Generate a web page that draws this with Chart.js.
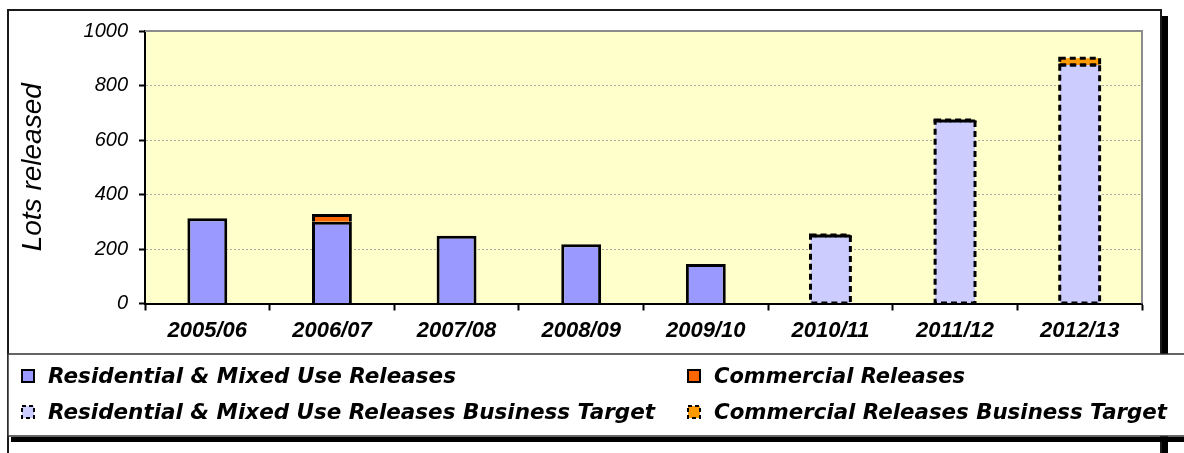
<!DOCTYPE html>
<html>
<head>
<meta charset="utf-8">
<title>Lots released</title>
<script src="https://cdn.jsdelivr.net/npm/chart.js@4.4.1/dist/chart.umd.min.js"></script>
<style>
  html, body { margin: 0; padding: 0; background: #fff; }
  #wrap { width: 1184px; height: 453px; }
</style>
</head>
<body>
<div id="wrap"><canvas id="chart-lots"></canvas></div>
<script>
const YEARS = ["2005/06", "2006/07", "2007/08", "2008/09", "2009/10", "2010/11", "2011/12", "2012/13"];
const RESIDENTIAL = [313, 300, 249, 217, 145, null, null, null];
const COMMERCIAL = [null, 28, null, null, null, null, null, null];
const RESIDENTIAL_TARGET = [null, null, null, null, null, 248, 670, 875];
const COMMERCIAL_TARGET = [null, null, null, null, null, 3, 3, 25];
const Y_TICKS = [0, 200, 400, 600, 800, 1000];

const FONT = "Liberation Sans, Arimo, Arial, Helvetica, sans-serif";
const LEGEND_FONT = "DejaVu Sans, Tahoma, sans-serif";

// page frame, shadow and the pale yellow plot area
const backdrop = {
  id: "backdrop",
  beforeDraw(chart) {
    const { ctx, chartArea: a } = chart;
    ctx.save();
    ctx.fillStyle = "#fff";
    ctx.fillRect(0, 0, chart.width, chart.height);
    ctx.fillStyle = "#000";
    ctx.fillRect(1162, 16, 6, chart.height);
    ctx.strokeStyle = "#1a1a1a";
    ctx.lineWidth = 2;
    ctx.strokeRect(8, 10, 1153, chart.height + 20);
    ctx.fillStyle = "#ffffcc";
    ctx.fillRect(a.left, a.top, a.right - a.left, a.bottom - a.top);
    ctx.restore();
  },
  afterDatasetsDraw(chart) {
    const { ctx, chartArea: a } = chart;
    ctx.save();
    ctx.strokeStyle = "#8c8c8c";
    ctx.lineWidth = 2;
    ctx.beginPath();
    ctx.moveTo(a.left, a.top);
    ctx.lineTo(a.right, a.top);
    ctx.lineTo(a.right, a.bottom);
    ctx.stroke();
    ctx.restore();
  },
};

// target bars get a dashed outline
const dashedOutline = {
  id: "dashedOutline",
  afterDatasetsDraw(chart) {
    const ctx = chart.ctx;
    chart.data.datasets.forEach((ds, i) => {
      if (!ds.dashed) return;
      chart.getDatasetMeta(i).data.forEach((bar, j) => {
        if (ds.data[j] == null) return;
        const { x, y, base, width } = bar.getProps(["x", "y", "base", "width"], true);
        ctx.save();
        ctx.strokeStyle = "#000";
        ctx.lineWidth = 3;
        ctx.setLineDash([6, 4]);
        ctx.strokeRect(x - width / 2, y, width, base - y);
        ctx.restore();
      });
    });
  },
};

// two-column legend in its own framed box under the chart
const boxLegend = {
  id: "boxLegend",
  afterDraw(chart) {
    const ctx = chart.ctx;
    const cols = [22, 688];
    const rows = [376, 412];
    const widths = [408, 251, 607, 453];
    ctx.save();
    ctx.fillStyle = "#fff";
    ctx.fillRect(8, 354, 1200, 82);
    ctx.strokeStyle = "#333";
    ctx.lineWidth = 1.5;
    ctx.strokeRect(8, 354, 1200, 82);
    ctx.fillStyle = "#000";
    ctx.fillRect(11, 437, 1200, 5);

    chart.data.datasets.forEach((ds, i) => {
      const x = cols[i % 2];
      const y = rows[Math.floor(i / 2)];
      ctx.fillStyle = ds.backgroundColor;
      ctx.fillRect(x, y - 6, 12, 12);
      ctx.strokeStyle = "#000";
      ctx.lineWidth = 2;
      ctx.setLineDash(ds.dashed ? [4, 3] : []);
      ctx.strokeRect(x, y - 6, 12, 12);
      ctx.setLineDash([]);
      ctx.fillStyle = "#000";
      ctx.font = `italic bold 22px ${LEGEND_FONT}`;
      ctx.textBaseline = "middle";
      ctx.textAlign = "left";
      ctx.fillText(ds.label, x + 26, y + 1, widths[i]);
    });
    ctx.restore();
  },
};

function draw() {
  new Chart(document.getElementById("chart-lots"), {
    type: "bar",
    data: {
      labels: YEARS,
      datasets: [
        {
          label: "Residential & Mixed Use Releases",
          data: RESIDENTIAL,
          backgroundColor: "#9999ff",
          borderColor: "#000",
          borderWidth: 3,
        },
        {
          label: "Commercial Releases",
          data: COMMERCIAL,
          backgroundColor: "#ff6600",
          borderColor: "#000",
          borderWidth: 3,
          borderSkipped: "bottom",
        },
        {
          label: "Residential & Mixed Use Releases Business Target",
          data: RESIDENTIAL_TARGET,
          backgroundColor: "#ccccff",
          borderWidth: 0,
          dashed: true,
        },
        {
          label: "Commercial Releases Business Target",
          data: COMMERCIAL_TARGET,
          backgroundColor: "#ff9900",
          borderWidth: 0,
          dashed: true,
        },
      ],
    },
    options: {
      responsive: true,
      maintainAspectRatio: false,
      animation: false,
      layout: { padding: { top: 31, right: 42, left: 0, bottom: 0 } },
      datasets: { bar: { categoryPercentage: 1, barPercentage: 0.32 } },
      scales: {
        x: {
          stacked: true,
          afterFit: (s) => { s.height = 149.5; },
          grid: { drawOnChartArea: false, offset: true, tickLength: 7, tickColor: "#000", tickWidth: 2 },
          border: { color: "#000", width: 2 },
          ticks: { color: "#000", padding: 7, font: { family: FONT, size: 22, style: "italic", weight: "bold" } },
        },
        y: {
          stacked: true,
          min: Y_TICKS[0],
          max: Y_TICKS[Y_TICKS.length - 1],
          afterFit: (s) => { s.width = 145; },
          ticks: {
            stepSize: Y_TICKS[1] - Y_TICKS[0],
            color: "#000",
            padding: 11,
            font: { family: FONT, size: 20, style: "italic" },
            callback: (v) => String(v),
          },
          grid: { color: "#a8a8a8", lineWidth: 1, tickLength: 6, tickColor: "#000", tickWidth: 2 },
          border: { color: "#000", width: 2, dash: [2, 2] },
          title: {
            display: true,
            text: "Lots released",
            color: "#000",
            padding: { top: 16, bottom: 0 },
            font: { family: FONT, size: 28, style: "italic" },
          },
        },
      },
      plugins: {
        legend: { display: false },
        tooltip: { enabled: false },
      },
    },
    plugins: [backdrop, dashedOutline, boxLegend],
  });
}

Promise.all([
  document.fonts.load("italic 20px 'Liberation Sans'"),
  document.fonts.load("italic bold 22px 'Liberation Sans'"),
  document.fonts.load("italic bold 22px 'DejaVu Sans'"),
]).then(draw, draw);
</script>
</body>
</html>
